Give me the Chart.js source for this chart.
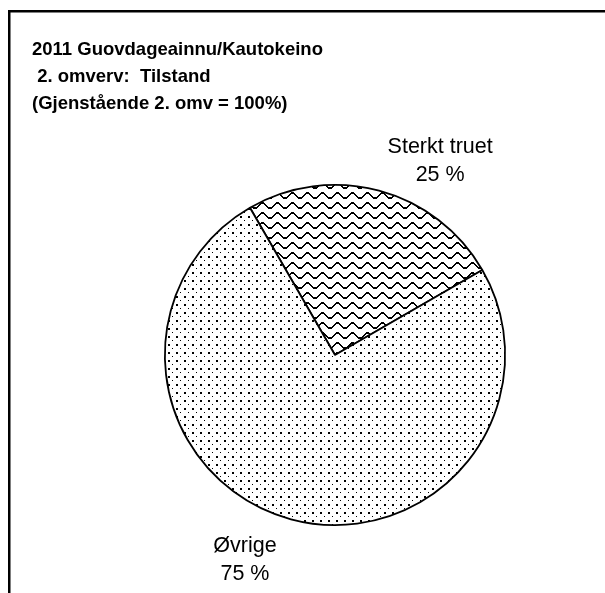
<!DOCTYPE html>
<html>
<head>
<meta charset="utf-8">
<script src="https://cdn.jsdelivr.net/npm/chart.js@4"></script>
<style>
  html, body { margin: 0; padding: 0; background: #fff; }
  canvas { display: block; }
</style>
</head>
<body>
<canvas id="myChart" width="605" height="593"></canvas>
<script>
const categories = ['Sterkt truet', 'Øvrige'];
const shares = [25, 75];
const titleLines = ['2011 Guovdageainnu/Kautokeino', ' 2. omverv:  Tilstand', '(Gjenstående 2. omv = 100%)'];

const ctx = document.getElementById('myChart').getContext('2d');

function wavePattern() {
  const c = document.createElement('canvas');
  c.width = 15; c.height = 10;
  const g = c.getContext('2d');
  g.fillStyle = '#fff';
  g.fillRect(0, 0, 15, 10);
  g.fillStyle = '#000';
  // trapezoid wave, 2px thick
  const ys = [7, 7, 6, 5, 4, 3, 2, 2, 2, 3, 4, 5, 6, 7, 7];
  ys.forEach((y, x) => g.fillRect(x, y, 1, 2));
  return ctx.createPattern(c, 'repeat');
}

function dotPattern() {
  const c = document.createElement('canvas');
  c.width = 8; c.height = 8;
  const g = c.getContext('2d');
  g.fillStyle = '#fff';
  g.fillRect(0, 0, 8, 8);
  g.fillStyle = '#000';
  g.fillRect(0, 0, 2, 2);
  g.fillRect(4, 4, 1, 1);
  return ctx.createPattern(c, 'repeat');
}

// frame + title, drawn like the original sheet
const frameTitle = {
  id: 'frameTitle',
  beforeDraw(chart) {
    const c = chart.ctx;
    c.save();
    c.fillStyle = '#fff';
    c.fillRect(0, 0, chart.width, chart.height);
    c.fillStyle = '#000';
    c.fillRect(8, 10, chart.width - 8, 2.5);
    c.fillRect(8, 10, 2.5, chart.height - 10);
    c.font = 'bold 18.5px "Liberation Sans", Arial, sans-serif';
    c.textBaseline = 'alphabetic';
    titleLines.forEach((t, i) => c.fillText(t, 32, 55 + i * 27));
    c.restore();
  }
};

const sliceLabels = {
  id: 'sliceLabels',
  afterDatasetsDraw(chart, args, opts) {
    const c = chart.ctx;
    const meta = chart.getDatasetMeta(0);
    const total = shares.reduce((a, b) => a + b, 0);
    c.save();
    c.font = opts.font;
    c.fillStyle = '#000';
    c.textAlign = 'center';
    c.textBaseline = 'alphabetic';
    meta.data.forEach((arc, i) => {
      const p = arc.getProps(['x', 'y', 'startAngle', 'endAngle', 'outerRadius'], true);
      const a = (p.startAngle + p.endAngle) / 2 + opts.shift[i] * Math.PI / 180;
      const d = p.outerRadius * opts.dist[i];
      const cx = p.x + Math.cos(a) * d;
      const cy = p.y + Math.sin(a) * d;
      c.fillText(categories[i], cx, cy - 14);
      c.fillText(Math.round(shares[i] / total * 100) + ' %', cx, cy + 14);
    });
    c.restore();
  }
};

new Chart(ctx, {
  type: 'pie',
  data: {
    labels: categories,
    datasets: [{
      data: shares,
      backgroundColor: [wavePattern(), dotPattern()],
      borderColor: '#000',
      borderWidth: 1.8,
      borderAlign: 'center',
    }]
  },
  options: {
    responsive: false,
    animation: false,
    rotation: -30,
    layout: {
      padding: { left: 164, right: 99, top: 184, bottom: 67 }
    },
    plugins: {
      legend: { display: false },
      tooltip: { enabled: false },
      sliceLabels: {
        font: '21.5px "Liberation Sans", Arial, sans-serif',
        shift: [14.2, 8.1],
        dist: [1.267, 1.349],
      },
    }
  },
  plugins: [frameTitle, sliceLabels]
});
</script>
</body>
</html>
